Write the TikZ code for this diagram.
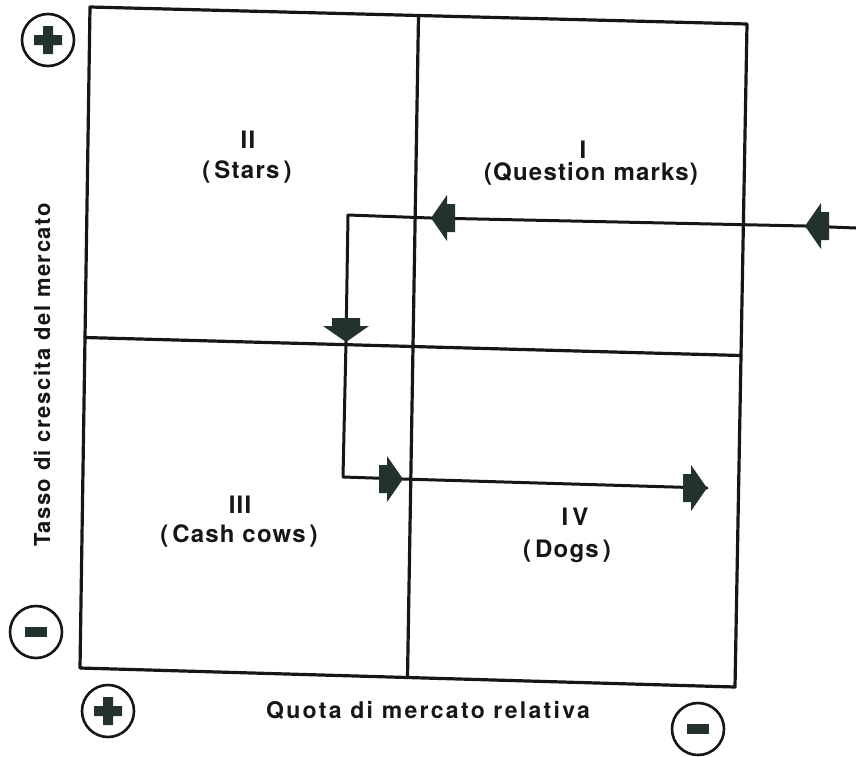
\documentclass[tikz,border=0pt]{standalone}
\usepackage{fontspec}
\setmainfont{TeX Gyre Heros}
\usetikzlibrary{calc}
\definecolor{ink}{RGB}{22,22,22}
\definecolor{headfill}{RGB}{36,50,46}
\tikzset{
  bhead/.pic={\fill[headfill] (0,0) -- (-16,-23) -- (-16,-14) -- (-24,-14) -- (-24,14) -- (-16,14) -- (-16,23) -- cycle;}
}
\begin{document}
\begin{tikzpicture}[x=1pt,y=-1pt,line cap=round,line join=round,
  frame/.style={line width=3.2pt,draw=ink},
  flow/.style={line width=3pt,draw=ink},
  quad/.style={font=\fontsize{24}{26}\selectfont\bfseries\addfontfeature{LetterSpace=5},text=ink,anchor=base,inner sep=0pt},
  axislab/.style={font=\fontsize{22}{24}\selectfont\bfseries\addfontfeature{LetterSpace=7},text=ink,anchor=base,inner sep=0pt},
  sign/.style={circle,draw=ink,line width=2.6pt,minimum size=52pt,inner sep=0pt}]
\useasboundingbox (0,0) rectangle (856,756);
% frame
\coordinate (TL) at (90,7);
\coordinate (TR) at (747,24);
\coordinate (BR) at (735,687);
\coordinate (BL) at (80,668);
\draw[frame] (TL) -- (TR) -- (BR) -- (BL) -- cycle;
\coordinate (TM) at ($(TL)!0.5!(TR)$);
\coordinate (BM) at ($(BL)!0.5!(BR)$);
\coordinate (LM) at ($(TL)!0.5!(BL)$);
\coordinate (RM) at ($(TR)!0.5!(BR)$);
\draw[frame] (TM) -- (BM);
\draw[frame] (LM) -- (RM);
% flow path
\coordinate (in) at (856,228);
\coordinate (h1) at (805,226);
\coordinate (h2) at (431,218);
\coordinate (c1) at (348,215);
\coordinate (h3) at (346,342);
\coordinate (c2) at (343,477);
\coordinate (h4) at (403,479);
\coordinate (h5) at (707,488);
\draw[flow] (in) -- (h1) -- (h2) -- (c1) -- (h3) -- (c2) -- (h4) -- (h5);
\pic[rotate=180] at (h1) {bhead};
\pic[rotate=180] at (h2) {bhead};
\pic[rotate=-90] at (h3) {bhead};
\pic at (h4) {bhead};
\pic at (h5) {bhead};
% quadrant labels
\node[quad] (n2) at (248,148) {II};
\node[quad] (t2) at (247,178) {(\,Stars\,)};
\node[quad] (n1) at (583,158) {I};
\node[quad] (t1) at (591,180) {(Question marks)};
\node[quad] (n3) at (240,513) {III};
\node[quad] (t3) at (239,542) {(\,Cash cows\,)};
\node[quad] (n4) at (575,525) {I\,V};
\node[quad] (t4) at (567,557) {(\,Dogs\,)};
% axis labels
\node[axislab,rotate=90] (ylab) at (50,375) {Tasso di crescita del mercato};
\node[axislab,font=\fontsize{23}{25}\selectfont\bfseries\addfontfeature{LetterSpace=10}] (xlab) at (428,718) {Quota di mercato relativa};
% signs
\node[sign] (s1) at (48,40) {};
\fill[headfill,shift={(s1.center)}] (-14,-5) rectangle (14,5) (-5,-14) rectangle (5,14);
\node[sign] (s2) at (36,632) {};
\fill[headfill,shift={(s2.center)}] (-11,-5) rectangle (11,5);
\node[sign] (s3) at (108,711) {};
\fill[headfill,shift={(s3.center)}] (-14,-5) rectangle (14,5) (-5,-14) rectangle (5,14);
\node[sign] (s4) at (698,729) {};
\fill[headfill,shift={(s4.center)}] (-11,-5) rectangle (11,5);
\end{tikzpicture}
\end{document}
